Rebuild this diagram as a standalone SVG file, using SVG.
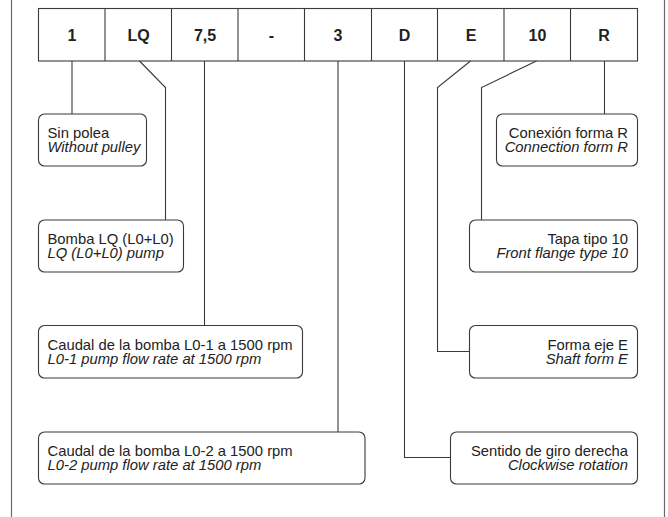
<svg xmlns="http://www.w3.org/2000/svg" width="668" height="517" viewBox="0 0 668 517">
<style>
.frame{stroke:#6a6a6a;stroke-width:1.2;fill:none}
.cell{fill:#fff;stroke:#3a3a3a;stroke-width:1.1}
.hd{font-family:"Liberation Sans",Arial,sans-serif;font-weight:bold;font-size:16px;fill:#222;text-anchor:middle}
.box{fill:#fff;stroke:#3a3a3a;stroke-width:1.1}
.t{font-family:"Liberation Sans",Arial,sans-serif;font-size:14.8px;fill:#222}
.i{font-style:italic}
.r{text-anchor:end}
.conn{fill:none;stroke:#3a3a3a;stroke-width:1.1}
</style>
<rect width="668" height="517" fill="#fff"/>
<line class="frame" x1="11.5" y1="0" x2="11.5" y2="517"/>
<line class="frame" x1="664.5" y1="0" x2="664.5" y2="517"/>
<g id="code">
<rect class="cell" x="38.5" y="8.5" width="599" height="52.5"/>
<g class="cell">
<line x1="105" y1="8.5" x2="105" y2="61"/>
<line x1="171.5" y1="8.5" x2="171.5" y2="61"/>
<line x1="238" y1="8.5" x2="238" y2="61"/>
<line x1="304.5" y1="8.5" x2="304.5" y2="61"/>
<line x1="371.5" y1="8.5" x2="371.5" y2="61"/>
<line x1="437.5" y1="8.5" x2="437.5" y2="61"/>
<line x1="504" y1="8.5" x2="504" y2="61"/>
<line x1="570.5" y1="8.5" x2="570.5" y2="61"/>
</g>
<text class="hd" x="72" y="40.5">1</text>
<text class="hd" x="138.5" y="40.5">LQ</text>
<text class="hd" x="205" y="40.5">7,5</text>
<text class="hd" x="271.5" y="40.5">-</text>
<text class="hd" x="338" y="40.5">3</text>
<text class="hd" x="404.5" y="40.5">D</text>
<text class="hd" x="471" y="40.5">E</text>
<text class="hd" x="537.5" y="40.5">10</text>
<text class="hd" x="604" y="40.5">R</text>
</g>
<g id="connectors">
<polyline class="conn" points="72,61 72,114"/>
<polyline class="conn" points="139.5,61 165.5,87.5 165.5,220"/>
<polyline class="conn" points="204.5,61 204.5,325.5"/>
<polyline class="conn" points="338,61 338,432"/>
<polyline class="conn" points="404.5,61 404.5,457.5 450.5,457.5"/>
<polyline class="conn" points="470.5,61 437.5,87.5 437.5,351.5 469.5,351.5"/>
<polyline class="conn" points="536.5,61 481.5,87.5 481.5,220"/>
<polyline class="conn" points="604.5,61 604.5,114"/>
</g>
<g id="n1">
<rect class="box" x="38.5" y="114" width="108" height="52" rx="6"/>
<text class="t" x="47.5" y="137.5">Sin polea</text>
<text class="t i" x="47.5" y="152">Without pulley</text>
</g>
<g id="nLQ">
<rect class="box" x="38.5" y="220" width="145" height="52" rx="6"/>
<text class="t" x="47.5" y="243.5">Bomba LQ (L0+L0)</text>
<text class="t i" x="47.5" y="258">LQ (L0+L0) pump</text>
</g>
<g id="n75">
<rect class="box" x="38.5" y="325.5" width="264" height="52.5" rx="6"/>
<text class="t" x="47.5" y="349.5">Caudal de la bomba L0-1 a 1500 rpm</text>
<text class="t i" x="47.5" y="364">L0-1 pump flow rate at 1500 rpm</text>
</g>
<g id="n3">
<rect class="box" x="38.5" y="432" width="326.5" height="52" rx="6"/>
<text class="t" x="47.5" y="455.5">Caudal de la bomba L0-2 a 1500 rpm</text>
<text class="t i" x="47.5" y="470">L0-2 pump flow rate at 1500 rpm</text>
</g>
<g id="nR">
<rect class="box" x="496.5" y="114" width="141" height="52" rx="6"/>
<text class="t r" x="628" y="137.5">Conexión forma R</text>
<text class="t i r" x="628" y="152">Connection form R</text>
</g>
<g id="n10">
<rect class="box" x="469.5" y="220" width="168" height="52" rx="6"/>
<text class="t r" x="628" y="243.5">Tapa tipo 10</text>
<text class="t i r" x="628" y="258">Front flange type 10</text>
</g>
<g id="nE">
<rect class="box" x="469.5" y="325.5" width="168" height="52.5" rx="6"/>
<text class="t r" x="628" y="349.5">Forma eje E</text>
<text class="t i r" x="628" y="364">Shaft form E</text>
</g>
<g id="nD">
<rect class="box" x="450.5" y="432" width="187" height="52" rx="6"/>
<text class="t r" x="628" y="455.5">Sentido de giro derecha</text>
<text class="t i r" x="628" y="470">Clockwise rotation</text>
</g>
</svg>
